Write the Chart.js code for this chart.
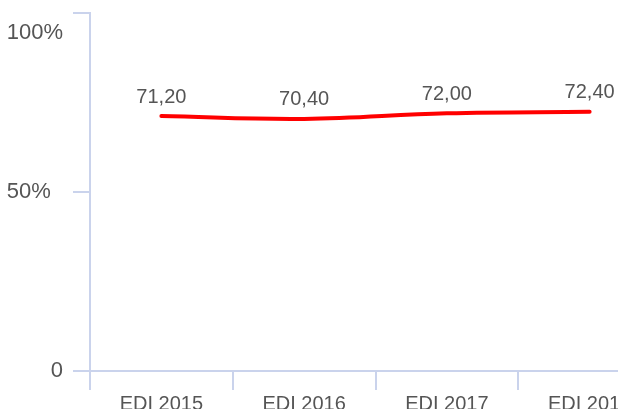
<!DOCTYPE html>
<html>
<head>
<meta charset="utf-8">
<script src="https://cdn.jsdelivr.net/npm/chart.js@4"></script>
<style>
  html, body { margin: 0; padding: 0; background: #fff; overflow: hidden; }
  #wrap { position: relative; width: 680px; height: 409px; }
</style>
</head>
<body>
<div id="wrap"><canvas id="chart"></canvas></div>
<script>
const categories = ["EDI 2015", "EDI 2016", "EDI 2017", "EDI 2018"];
const values = [71.2, 70.4, 72.0, 72.4];
const yTicks = [0, 50, 100];
const yTickLabels = ["0", "50%  ", ["", "100%"]]; // 100% sits under its tick

const axisColor = "#cad3ec";
const textColor = "#555555";

// value labels above each point, e.g. "71,20"
const valueLabels = {
  id: "valueLabels",
  afterDatasetsDraw(chart) {
    const ctx = chart.ctx;
    const meta = chart.getDatasetMeta(0);
    ctx.save();
    ctx.font = "20px 'Liberation Sans', Arial, sans-serif";
    ctx.fillStyle = textColor;
    ctx.textAlign = "center";
    ctx.textBaseline = "middle";
    meta.data.forEach((pt, i) => {
      const txt = values[i].toFixed(2).replace(".", ",");
      ctx.fillText(txt, pt.x, pt.y - 19);
    });
    ctx.restore();
  }
};

const ctx = document.getElementById("chart").getContext("2d");
new Chart(ctx, {
  type: "line",
  data: {
    labels: categories,
    datasets: [{
      data: values,
      borderColor: "#ff0000",
      borderWidth: 4,
      borderCapStyle: "round",
      tension: 0.4,
      pointRadius: 0,
      fill: false
    }]
  },
  options: {
    responsive: true,
    maintainAspectRatio: false,
    animation: false,
    layout: { padding: { top: 13, right: 19, bottom: 0, left: 0 } },
    plugins: {
      legend: { display: false },
      tooltip: { enabled: false }
    },
    scales: {
      x: {
        offset: true,
        grid: {
          offset: true,
          drawOnChartArea: false,
          color: axisColor,
          lineWidth: 2,
          tickLength: 19
        },
        border: { color: axisColor, width: 2 },
        ticks: {
          color: textColor,
          padding: 2,
          font: { family: "'Liberation Sans', Arial, sans-serif", size: 20 }
        },
        afterFit(scale) {
          scale.height = 38;
          scale.paddingLeft = 0;
          scale.paddingRight = 0;
        }
      },
      y: {
        min: 0,
        max: 100,
        afterBuildTicks(scale) {
          scale.ticks = yTicks.map(v => ({ value: v }));
        },
        grid: {
          drawOnChartArea: false,
          color: axisColor,
          lineWidth: 2,
          tickLength: 17
        },
        border: { color: axisColor, width: 2 },
        ticks: {
          color: textColor,
          padding: 10,
          font: { family: "'Liberation Sans', Arial, sans-serif", size: 22, lineHeight: "40px" },
          callback: (v) => yTickLabels[yTicks.indexOf(v)]
        },
        afterFit(scale) {
          scale.width = 90;
          scale.paddingTop = 0;
          scale.paddingBottom = 0;
        }
      }
    }
  },
  plugins: [valueLabels]
});
</script>
</body>
</html>
